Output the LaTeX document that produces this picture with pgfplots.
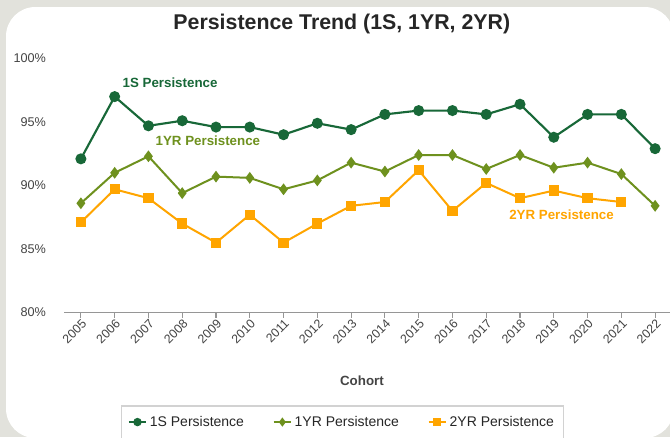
\documentclass[border=0pt]{standalone}
\usepackage{fontspec}
\setmainfont{Liberation Sans}
\usepackage{pgfplots}
\pgfplotsset{compat=1.18}

\definecolor{panelgray}{RGB}{226,226,220}
\definecolor{c1s}{RGB}{24,104,56}
\definecolor{c1yr}{RGB}{110,145,30}
\definecolor{c2yr}{RGB}{255,165,0}
\definecolor{txtgray}{RGB}{68,68,68}
\definecolor{axgray}{RGB}{150,150,150}

\begin{document}
\begin{tikzpicture}
% page background and white panel (1px = 0.75pt)
\fill[panelgray] (0,0) rectangle (502.5pt,327.75pt);
\fill[white, rounded corners=22pt] (4.5pt,-0.75pt) rectangle (505.5pt,322.5pt);

\begin{axis}[
    scale only axis,
    width=456pt, height=190.5pt,
    at={(48pt,93.375pt)}, anchor=south west,
    xmin=2004.5, xmax=2022.5,
    ymin=80, ymax=100,
    axis x line*=bottom, axis y line*=left,
    x axis line style={-, draw=axgray, line width=1pt},
    y axis line style={draw=none},
    xtick={2005,2006,...,2022},
    ytick={80,85,...,100},
    xtick style={draw=axgray, line width=0.8pt},
    ytick style={draw=none},
    tick align=outside,
    major tick length=4pt,
    /pgf/number format/assume math mode=true,
    xticklabel={\pgfmathprintnumber[1000 sep={}]{\tick}},
    yticklabel={\pgfmathprintnumber{\tick}\%},
    x tick label style={rotate=45, anchor=north east, inner sep=1pt, xshift=1pt, yshift=0.8pt, font=\fontsize{9.3}{10}\selectfont, text=txtgray},
    y tick label style={font=\fontsize{9.5}{11}\selectfont, text=txtgray, xshift=-6pt},
    xlabel={Cohort},
    xlabel style={at={(axis description cs:0.49,-0.27)}, anchor=center, font=\bfseries\fontsize{10}{12}\selectfont, text=txtgray},
    title={Persistence Trend (1S, 1YR, 2YR)},
    title style={at={(axis description cs:0.457,1.105)}, anchor=center, font=\bfseries\fontsize{16}{18}\selectfont, text=black!85},
    legend style={at={(0.093,-0.366)}, anchor=north west, legend columns=3,
        draw=gray!35, line width=0.8pt, font=\fontsize{10.5}{12}\selectfont, text=black!85,
        inner xsep=5pt, inner ysep=5.5pt,
        /tikz/every even column/.append style={column sep=19.5pt}},
    legend cell align=left,
    legend image code/.code={\draw[mark repeat=2, mark phase=2, #1, mark options={scale=0.7}] plot coordinates {(0pt,0pt) (6.5pt,0pt) (13pt,0pt)};},
    clip=false,
]

% 1S persistence
\addplot[c1s, line width=1.6pt, mark=*, mark size=3.3pt] coordinates {
    (2005,92.1) (2006,97.0) (2007,94.7) (2008,95.1) (2009,94.6) (2010,94.6)
    (2011,94.0) (2012,94.9) (2013,94.4) (2014,95.6) (2015,95.9) (2016,95.9)
    (2017,95.6) (2018,96.4) (2019,93.8) (2020,95.6) (2021,95.6) (2022,92.9)
};
\addlegendentry{1S Persistence}

% 1YR persistence
\addplot[c1yr, line width=1.5pt, mark=diamond*, mark size=3.2pt] coordinates {
    (2005,88.6) (2006,91.0) (2007,92.3) (2008,89.4) (2009,90.7) (2010,90.6)
    (2011,89.7) (2012,90.4) (2013,91.8) (2014,91.1) (2015,92.4) (2016,92.4)
    (2017,91.3) (2018,92.4) (2019,91.4) (2020,91.8) (2021,90.9) (2022,88.4)
};
\addlegendentry{1YR Persistence}

% 2YR persistence (no 2022 value)
\addplot[c2yr, line width=1.5pt, mark=square*, mark size=3.1pt] coordinates {
    (2005,87.1) (2006,89.7) (2007,89.0) (2008,87.0) (2009,85.5) (2010,87.7)
    (2011,85.5) (2012,87.0) (2013,88.4) (2014,88.7) (2015,91.2) (2016,88.0)
    (2017,90.2) (2018,89.0) (2019,89.6) (2020,89.0) (2021,88.7)
};
\addlegendentry{2YR Persistence}

% series labels
\node[font=\bfseries\fontsize{10}{12}\selectfont, text=c1s] at (axis cs:2007.64,98.1) {1S Persistence};
\node[font=\bfseries\fontsize{10}{12}\selectfont, text=c1yr] at (axis cs:2008.76,93.5) {1YR Persistence};
\node[font=\bfseries\fontsize{10}{12}\selectfont, text=c2yr] at (axis cs:2019.23,87.72) {2YR Persistence};

\end{axis}
\pgfresetboundingbox
\path[use as bounding box] (0,0) rectangle (502.5pt,327.75pt);
\end{tikzpicture}
\end{document}
